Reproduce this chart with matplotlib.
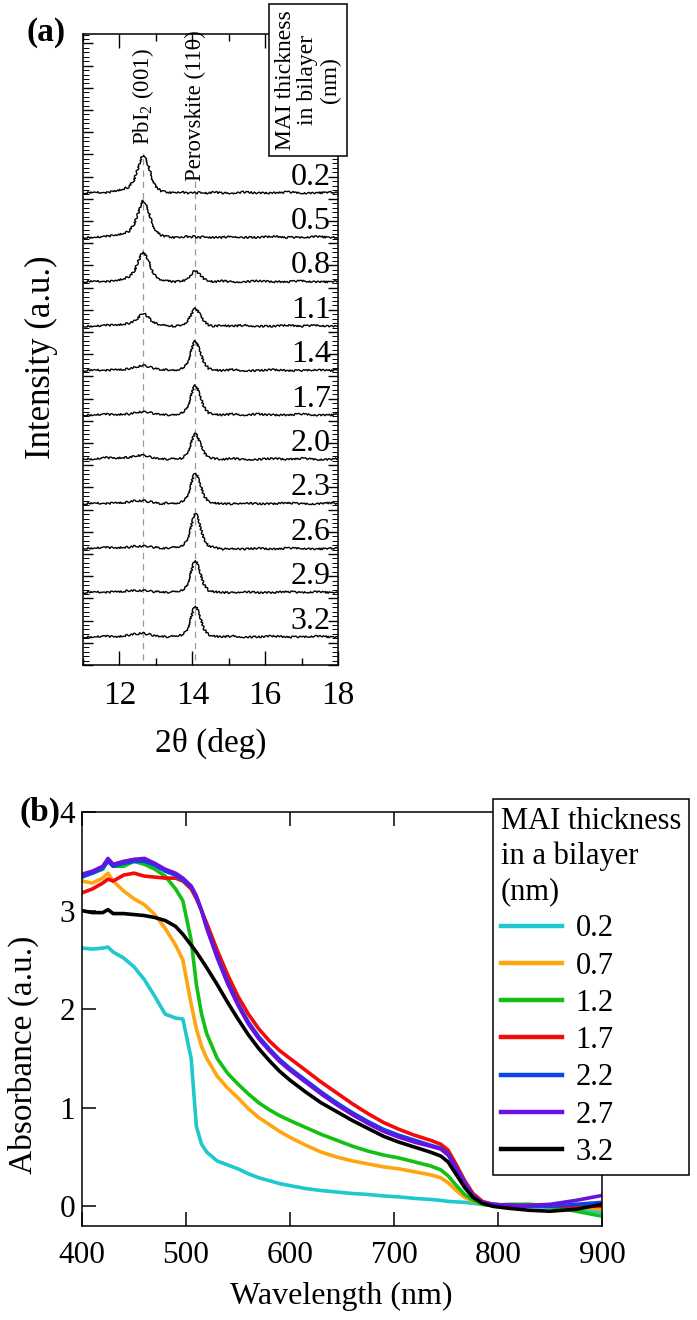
import matplotlib
matplotlib.use("Agg")
import matplotlib.pyplot as plt
from matplotlib.ticker import MultipleLocator

plt.rcParams['font.family'] = ['Liberation Serif', 'DejaVu Serif']
plt.rcParams['mathtext.fontset'] = 'custom'
plt.rcParams['mathtext.rm'] = 'Liberation Serif'
plt.rcParams['mathtext.it'] = 'Liberation Serif:italic'
plt.rcParams['mathtext.default'] = 'regular'

# ---- panel (a): XRD traces, intensity above each trace's baseline (a.u.)
two_theta = [11.0, 11.3, 11.6, 11.9, 12.1, 12.25, 12.4, 12.5, 12.6, 12.65, 12.7,
             12.8, 12.9, 13.0, 13.15, 13.3, 13.5, 13.7, 13.85, 13.95, 14.03,
             14.08, 14.13, 14.22, 14.32, 14.45, 14.6, 14.8, 15.1, 15.4, 15.8,
             16.2, 16.6, 17.0, 17.4, 17.8, 18.0]
xrd_labels = ['0.2', '0.5', '0.8', '1.1', '1.4', '1.7', '2.0', '2.3', '2.6', '2.9', '3.2']
xrd_02 = [0, 1, 0, 2, 4, 6, 13, 24, 35, 38, 36, 27, 14, 6, 2, 1, 0, 1, 0, 0, 1,
          0, 0, 1, 0, 0, 1, 0, 0, 1, 0, 0, 1, 0, 0, 1, 0]
xrd_05 = [0, 0, 1, 2, 4, 6, 13, 23, 34, 37, 35, 26, 14, 6, 2, 1, 0, 0, 1, 0, 1,
          1, 0, 0, 1, 0, 0, 0, 1, 0, 0, 1, 0, 0, 1, 0, 0]
xrd_08 = [0, 1, 0, 1, 3, 5, 10, 19, 28, 30, 28, 21, 11, 5, 2, 1, 0, 1, 2, 6, 10,
          11, 10, 7, 3, 1, 0, 1, 0, 0, 1, 0, 0, 1, 0, 0, 1]
xrd_11 = [0, 0, 1, 1, 2, 3, 5, 8, 12, 13, 12, 9, 5, 3, 1, 1, 0, 1, 4, 10, 16,
          18, 17, 11, 5, 1, 0, 1, 0, 1, 0, 0, 1, 0, 1, 0, 0]
xrd_14 = [0, 1, 0, 1, 1, 2, 3, 4, 5, 5, 5, 4, 3, 2, 1, 1, 0, 2, 6, 17, 27,
          30, 28, 18, 8, 2, 1, 0, 1, 0, 0, 1, 0, 0, 1, 0, 1]
xrd_17 = [0, 0, 1, 0, 1, 1, 2, 3, 3, 3, 3, 3, 2, 1, 1, 0, 0, 2, 6, 17, 27,
          30, 28, 18, 8, 2, 1, 0, 1, 0, 1, 0, 0, 1, 0, 0, 1]
xrd_20 = [1, 0, 2, 1, 2, 2, 3, 4, 4, 4, 4, 3, 2, 1, 1, 0, 1, 1, 5, 14, 23,
          26, 24, 16, 7, 2, 1, 0, 1, 0, 0, 1, 0, 1, 0, 0, 1]
xrd_23 = [0, 1, 0, 1, 1, 2, 3, 3, 3, 3, 3, 2, 2, 1, 0, 1, 0, 2, 6, 17, 28,
          31, 29, 19, 8, 2, 1, 0, 0, 1, 0, 0, 1, 0, 0, 1, 0]
xrd_26 = [0, 0, 1, 0, 1, 1, 2, 2, 2, 2, 2, 2, 1, 1, 0, 0, 1, 2, 7, 19, 31,
          35, 33, 21, 9, 2, 1, -1, 0, -1, 0, -1, 0, 0, -1, 0, 0]
xrd_29 = [0, 1, 0, 1, 1, 2, 2, 2, 2, 2, 2, 2, 1, 1, 1, 0, 1, 2, 6, 18, 29,
          32, 30, 19, 8, 2, 1, 0, 0, 1, 0, 0, 1, 0, 1, 0, 0]
xrd_32 = [0, 0, 1, 0, 1, 2, 3, 3, 4, 4, 3, 3, 2, 1, 1, 0, 1, 2, 6, 17, 28,
          31, 29, 19, 8, 2, 1, 0, 1, 0, 0, 1, 0, 0, 1, 0, 0]
xrd_traces = [xrd_02, xrd_05, xrd_08, xrd_11, xrd_14, xrd_17, xrd_20,
              xrd_23, xrd_26, xrd_29, xrd_32]
pbi2_pos = 12.65
perov_pos = 14.08

# ---- panel (b): absorbance spectra
wavelength = [400, 410, 420, 425, 430, 440, 450, 460, 470, 480, 490, 497, 505,
              510, 515, 520, 530,
              540, 550, 560, 570, 580, 590, 600,
              615, 630, 645, 660, 675, 690, 705, 720, 735,
              745, 752, 760, 768, 776, 785, 795,
              810, 830, 850, 875, 900]
abs_02 = [2.62, 2.61, 2.62, 2.63, 2.58, 2.52, 2.43, 2.30, 2.13, 1.95, 1.91, 1.90, 1.50,
          0.81, 0.63, 0.55, 0.46,
          0.42, 0.38, 0.33, 0.29, 0.26, 0.23, 0.21,
          0.18, 0.16, 0.145, 0.13, 0.12, 0.105, 0.095, 0.08, 0.07,
          0.06, 0.05, 0.045, 0.04, 0.03, 0.02, 0.01,
          0.01, 0.00, -0.01, -0.03, -0.06]
abs_07 = [3.30, 3.28, 3.33, 3.38, 3.30, 3.20, 3.12, 3.06, 2.96, 2.82, 2.65, 2.50, 2.05,
          1.80, 1.62, 1.50, 1.32,
          1.20, 1.10, 0.99, 0.90, 0.83, 0.76, 0.70,
          0.62, 0.55, 0.50, 0.46, 0.43, 0.40, 0.38, 0.35, 0.32,
          0.29, 0.24, 0.16, 0.09, 0.05, 0.02, 0.01,
          0.01, 0.02, 0.01, -0.01, -0.03]
abs_12 = [3.37, 3.38, 3.42, 3.52, 3.45, 3.45, 3.50, 3.47, 3.42, 3.35, 3.22, 3.10, 2.70,
          2.25, 1.95, 1.75, 1.50,
          1.35, 1.24, 1.14, 1.05, 0.98, 0.92, 0.87,
          0.80, 0.73, 0.67, 0.61, 0.56, 0.52, 0.49, 0.45, 0.41,
          0.37, 0.31, 0.21, 0.12, 0.06, 0.02, 0.01,
          0.02, 0.02, 0.00, -0.05, -0.10]
abs_17 = [3.18, 3.22, 3.28, 3.32, 3.30, 3.36, 3.38, 3.35, 3.34, 3.33, 3.33, 3.30, 3.22,
          3.12, 3.00, 2.87, 2.60,
          2.35, 2.13, 1.95, 1.80, 1.68, 1.58, 1.50,
          1.38, 1.26, 1.15, 1.04, 0.94, 0.85, 0.78, 0.72, 0.67,
          0.63, 0.57, 0.42, 0.26, 0.13, 0.05, 0.02,
          0.01, 0.00, 0.00, 0.00, 0.00]
abs_22 = [3.34, 3.38, 3.43, 3.50, 3.45, 3.48, 3.50, 3.50, 3.46, 3.40, 3.36, 3.31, 3.24,
          3.14, 3.00, 2.83, 2.54,
          2.28, 2.06, 1.87, 1.72, 1.60, 1.49, 1.40,
          1.28, 1.16, 1.05, 0.95, 0.86, 0.78, 0.72, 0.67, 0.62,
          0.59, 0.53, 0.39, 0.24, 0.11, 0.04, 0.02,
          0.01, 0.00, 0.00, 0.02, 0.04]
abs_27 = [3.37, 3.40, 3.45, 3.53, 3.47, 3.50, 3.52, 3.53, 3.48, 3.42, 3.38, 3.33, 3.25,
          3.15, 3.00, 2.82, 2.52,
          2.26, 2.04, 1.85, 1.70, 1.58, 1.47, 1.38,
          1.26, 1.14, 1.03, 0.93, 0.84, 0.76, 0.70, 0.65, 0.61,
          0.58, 0.52, 0.38, 0.23, 0.10, 0.04, 0.02,
          0.01, 0.01, 0.02, 0.06, 0.11]
abs_32 = [3.00, 2.98, 2.98, 3.01, 2.97, 2.97, 2.96, 2.95, 2.93, 2.90, 2.84, 2.76, 2.65,
          2.58, 2.50, 2.42, 2.25,
          2.07, 1.90, 1.74, 1.60, 1.48, 1.37, 1.28,
          1.16, 1.05, 0.96, 0.87, 0.79, 0.71, 0.65, 0.60, 0.55,
          0.51, 0.45, 0.32, 0.19, 0.09, 0.03, 0.00,
          -0.02, -0.04, -0.05, -0.03, 0.02]
abs_labels = ['0.2', '0.7', '1.2', '1.7', '2.2', '2.7', '3.2']
abs_series = [abs_02, abs_07, abs_12, abs_17, abs_22, abs_27, abs_32]
abs_colors = ['#1ec8cc', '#ffa510', '#14c014', '#f50a0a', '#0c46e6', '#6a12e0', '#000000']

fig = plt.figure(figsize=(6.97, 13.2), dpi=100)

# ================= (a)
ax = fig.add_axes([0.1191, 0.4962, 0.3659, 0.4780])
step = 44.4
base0 = 28
n = len(xrd_traces)
for i, (lab, tr) in enumerate(zip(xrd_labels, xrd_traces)):
    off = base0 + step * (n - 1 - i)
    ln, = ax.plot(two_theta, [v + off for v in tr], color='black', lw=1.0)
    ln.set_sketch_params(scale=0.9, length=2.5, randomness=3)
    ax.text(17.8, off + 16, lab, fontsize=23, ha='right', va='center')

top_off = base0 + step * (n - 1)
ax.plot([pbi2_pos, pbi2_pos], [5, top_off + 40], ls=(0, (5, 4)), color='#999999', lw=0.9, zorder=0)
ax.plot([perov_pos, perov_pos], [5, top_off + 12], ls=(0, (5, 4)), color='#999999', lw=0.9, zorder=0)
ax.text(pbi2_pos, top_off + 48, 'PbI$_2$ (001)', rotation=90, fontsize=16.5,
        ha='center', va='bottom')
ax.text(perov_pos, top_off + 12, 'Perovskite (110)', rotation=90, fontsize=16.5,
        ha='center', va='bottom')

ax.set_xlim(11, 18)
ax.set_ylim(0, 631)
ax.xaxis.set_major_locator(MultipleLocator(2))
ax.xaxis.set_minor_locator(MultipleLocator(1))
ax.yaxis.set_major_locator(MultipleLocator(step / 2))
ax.yaxis.set_minor_locator(MultipleLocator(step / 10))
ax.set_yticklabels([])
ax.tick_params(which='both', direction='in', top=True, right=True, width=1.0)
ax.tick_params(which='major', axis='x', length=10, labelsize=24, pad=11)
ax.tick_params(which='minor', axis='x', length=5)
ax.tick_params(which='major', axis='y', length=7)
ax.tick_params(which='minor', axis='y', length=4, width=0.7)
for s in ax.spines.values():
    s.set_linewidth(1.1)
ax.set_xlabel('2θ (deg)', fontsize=24)
ax.xaxis.label.set_va('center')
ax.xaxis.set_label_coords(0.5, -0.1236)
ax.set_ylabel('Intensity (a.u.)', fontsize=25)
ax.yaxis.label.set_va('center')
ax.yaxis.set_label_coords(-0.161, 0.487)

fig.text(308 / 697, 1 - 80 / 1320, 'MAI thickness\nin bilayer\n(nm)', rotation=90,
         fontsize=17, ha='center', va='center', linespacing=1.1,
         bbox=dict(boxstyle='square,pad=0.25', fc='white', ec='black', lw=1.1))
fig.text(46 / 697, 1 - 32 / 1320, '(a)', fontsize=24, fontweight='bold',
         ha='center', va='center')

# ================= (b)
bx = fig.add_axes([0.1176, 0.0712, 0.7461, 0.3136])
for lab, ys, c in zip(abs_labels, abs_series, abs_colors):
    bx.plot(wavelength, ys, color=c, lw=2.6, label=lab)
bx.set_xlim(400, 900)
bx.set_ylim(-0.2, 4.0)
bx.xaxis.set_major_locator(MultipleLocator(100))
bx.yaxis.set_major_locator(MultipleLocator(1))
bx.tick_params(direction='in', top=True, right=False, width=1.1, length=10, labelsize=22.5)
bx.tick_params(axis='x', pad=11)
bx.tick_params(axis='y', pad=5)
for s in bx.spines.values():
    s.set_linewidth(1.1)
bx.set_xlabel('Wavelength (nm)', fontsize=23)
bx.xaxis.label.set_va('center')
bx.xaxis.set_label_coords(0.498, -0.171)
bx.set_ylabel('Absorbance (a.u.)', fontsize=24)
bx.yaxis.label.set_va('center')
bx.yaxis.set_label_coords(-0.112, 0.413)

leg = bx.legend(title='MAI thickness\nin a bilayer\n(nm)', alignment='left',
                loc='upper left', bbox_to_anchor=(493 / 697, 1 - 799 / 1320),
                bbox_transform=fig.transFigure, fontsize=22, title_fontsize=22,
                frameon=True, fancybox=False, edgecolor='black', framealpha=1,
                borderaxespad=0, borderpad=0.25, labelspacing=0.27,
                handlelength=2.0, handletextpad=0.45)
leg.get_frame().set_linewidth(1.1)
leg.get_title().set_linespacing(1.27)
for h in leg.get_lines():
    h.set_linewidth(3.2)

fig.text(40 / 697, 1 - 812 / 1320, '(b)', fontsize=24, fontweight='bold',
         ha='center', va='center')

fig.savefig('out.png', dpi=100)
